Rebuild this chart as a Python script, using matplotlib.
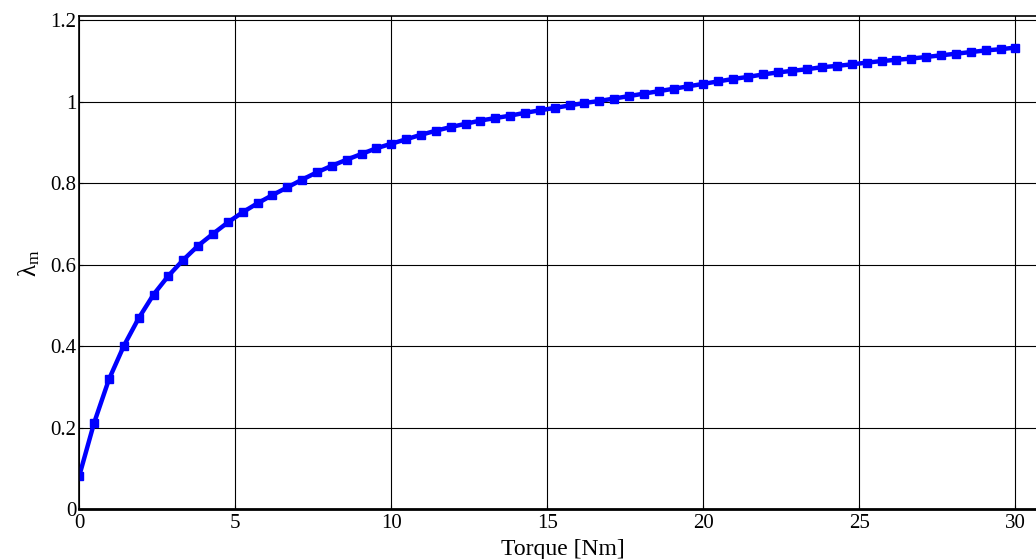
import numpy as np
import matplotlib
matplotlib.use("Agg")
import matplotlib.pyplot as plt

# torque samples (64 evenly spaced points from 0 to 30 Nm)
torque = np.linspace(0, 30, 64)
lambda_m = [0.082, 0.212, 0.319, 0.401, 0.469, 0.527, 0.573, 0.612,
            0.647, 0.676, 0.704, 0.729, 0.751, 0.771, 0.790, 0.809,
            0.827, 0.843, 0.858, 0.872, 0.886, 0.897, 0.908, 0.919,
            0.929, 0.938, 0.946, 0.954, 0.960, 0.966, 0.973, 0.979,
            0.985, 0.991, 0.997, 1.002, 1.008, 1.014, 1.020, 1.026,
            1.032, 1.038, 1.044, 1.050, 1.056, 1.061, 1.067, 1.072,
            1.076, 1.080, 1.085, 1.088, 1.092, 1.096, 1.100, 1.103,
            1.106, 1.110, 1.114, 1.118, 1.122, 1.126, 1.129, 1.133]
xticks = [0, 5, 10, 15, 20, 25, 30]
yticks = [0, 0.2, 0.4, 0.6, 0.8, 1.0, 1.2]
ytick_labels = ["0", "0.2", "0.4", "0.6", "0.8", "1", "1.2"]

plt.rcParams['font.family'] = ['Liberation Serif', 'DejaVu Serif']
plt.rcParams['mathtext.fontset'] = 'custom'
plt.rcParams['mathtext.rm'] = 'Liberation Serif'
plt.rcParams['mathtext.it'] = 'Liberation Serif:italic'

fig = plt.figure(figsize=(10.36, 5.59), dpi=100)
ax = fig.add_axes([0.0765, 0.0889, 0.9337, 0.8816])

ax.plot(torque, lambda_m, color='#0000ff', lw=3.2, marker='s', ms=5.5)

ax.set_xlim(0, 31)
ax.set_ylim(0, 1.2093)
ax.set_xticks(xticks)
ax.set_yticks(yticks)
ax.set_yticklabels(ytick_labels)
ax.tick_params(direction='in', length=3, width=0.8, labelsize=15, pad=2)
ax.tick_params(axis='x', pad=3.5)
ax.grid(True, color='black', lw=0.8)
ax.set_axisbelow(True)
for s in ax.spines.values():
    s.set_linewidth(1.2)
ax.spines['bottom'].set_linewidth(2)

ax.set_xlabel("Torque [Nm]", fontsize=17)
ax.xaxis.set_label_coords(0.5, -0.06)
ax.set_ylabel(r"$\mathrm{\lambda_m}$", fontsize=18)
ax.yaxis.set_label_coords(-0.038, 0.5)

fig.savefig("out.png", dpi=100)
